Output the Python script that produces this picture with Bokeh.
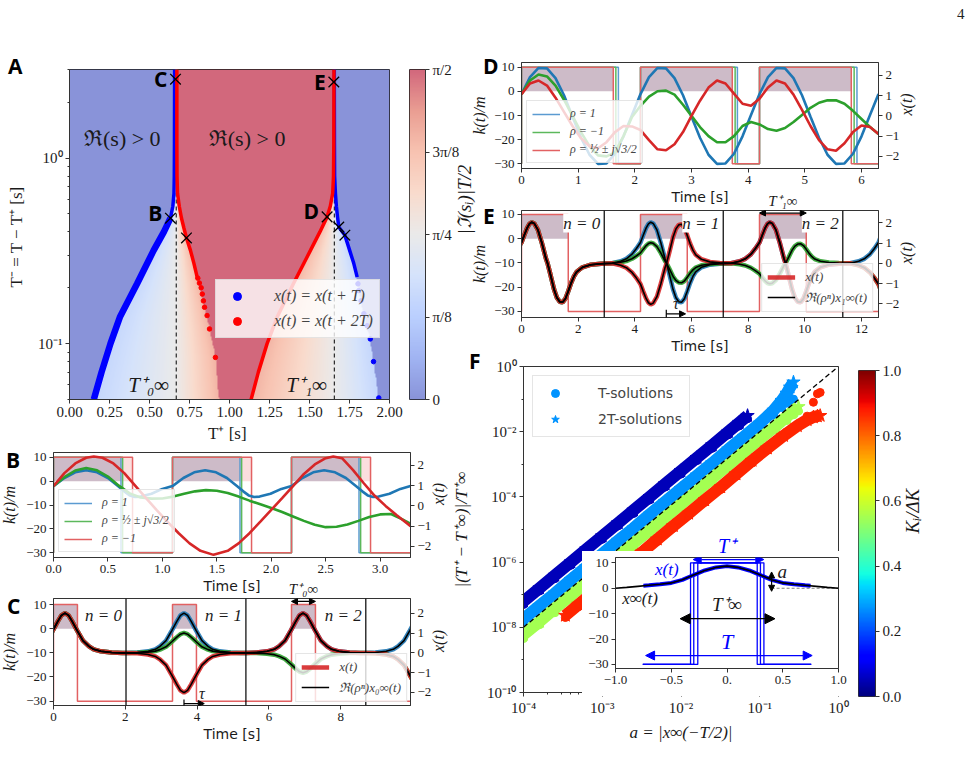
import numpy as np
from bokeh.plotting import figure
from bokeh.models import (Range1d, LinearAxis, FixedTicker, Label, Span, Arrow,
                          NormalHead, TeeHead, Legend, LegendItem, Div,
                          LinearColorMapper)
from bokeh.layouts import column
from bokeh.embed import file_html
from bokeh.resources import INLINE

SERIF = "Liberation Serif"
SANS = "DejaVu Sans"
BOLD = "Open Sans"
MINUS = "\u2212"
INK = "#1a1a1a"

# ============================== DATA ==============================
# ---- Panel A : boundary curves (T+ [s], T- [s]) ----
A_blue_left_y = [0.05, 0.07, 0.1, 0.139, 0.211, 0.318, 0.4, 0.474, 0.55, 0.646, 0.8, 1.2, 3.0]
A_blue_left_x = [0.152, 0.2, 0.256, 0.315, 0.423, 0.526, 0.59, 0.631, 0.646, 0.653, 0.655, 0.656, 0.657]
A_red_left_y = [3.0, 1.2, 0.8, 0.646, 0.55, 0.474, 0.42, 0.371, 0.318, 0.27, 0.228]
A_red_left_x = [0.671, 0.671, 0.672, 0.675, 0.686, 0.700, 0.715, 0.731, 0.756, 0.778, 0.798]
A_red_dots_y = [0.2254, 0.212, 0.2, 0.185, 0.17, 0.157, 0.1417, 0.12, 0.0843]
A_red_dots_x = [0.802, 0.812, 0.823, 0.83, 0.837, 0.844, 0.860, 0.875, 0.912]
A_red_edge_y = [0.05, 0.0843, 0.12, 0.157, 0.228, 0.318, 0.371, 0.474, 0.646, 3.0]
A_red_edge_x = [0.935, 0.912, 0.875, 0.844, 0.798, 0.756, 0.731, 0.700, 0.675, 0.671]
A_red_right_y = [0.05, 0.07, 0.1, 0.139, 0.211, 0.318, 0.4, 0.482, 0.55, 0.646, 0.8, 1.2, 3.0]
A_red_right_x = [1.135, 1.18, 1.235, 1.298, 1.40, 1.506, 1.565, 1.61, 1.63, 1.645, 1.650, 1.652, 1.653]
A_blue_right_y = [3.0, 1.2, 0.8, 0.646, 0.55, 0.482, 0.425, 0.384, 0.32, 0.27, 0.228]
A_blue_right_x = [1.655, 1.656, 1.657, 1.662, 1.668, 1.675, 1.683, 1.721, 1.75, 1.777, 1.798]
A_blue_dots_y = [0.21, 0.193, 0.17, 0.145, 0.125, 0.106, 0.08, 0.051]
A_blue_dots_x = [1.803, 1.808, 1.822, 1.84, 1.86, 1.88, 1.90, 1.933]
A_blue_edge_y = [0.05, 0.106, 0.145, 0.193, 0.228, 0.27, 0.32, 0.384, 0.425, 0.482, 0.646, 3.0]
A_blue_edge_x = [1.935, 1.88, 1.84, 1.808, 1.798, 1.777, 1.75, 1.721, 1.683, 1.675, 1.662, 1.655]
A_Tinf = [0.667, 1.655]
A_Tinf_top = 0.646
A_mark_x = [0.6625, 1.652, 0.631, 0.731, 1.61, 1.683, 1.721]
A_mark_y = [2.66, 2.57, 0.474, 0.371, 0.482, 0.425, 0.384]
A_mark_name = ["C", "E", "B", "", "D", "", ""]
A_xticks = [0.0, 0.25, 0.5, 0.75, 1.0, 1.25, 1.5, 1.75, 2.0]
A_xlabels = ["0.00", "0.25", "0.50", "0.75", "1.00", "1.25", "1.50", "1.75", "2.00"]
A_cb_ticks = [0.0, np.pi / 8, np.pi / 4, 3 * np.pi / 8, np.pi / 2]
A_cb_labels = ["0", "π/8", "π/4", "3π/8", "π/2"]

K_HIGH, K_LOW = 10, -30

# ---- Panel B ----
B_on = [0.0, 1.093, 2.186]
B_off = {"blue": [0.62, 1.713, 2.806], "green": [0.635, 1.728, 2.821], "red": [0.726, 1.819, 2.912]}
B_mauve_end = [0.62, 1.713, 2.806]
B_pink_end = [0.726, 1.819, 2.912]
B_tmax = 3.279
B_t_blue = [0, .1, .2, .3, .4, .5, .6, .65, .7, .75, .8, .9, 1.0,
            1.093, 1.193, 1.293, 1.393, 1.493, 1.593, 1.693, 1.743, 1.793, 1.843, 1.893, 1.993, 2.093,
            2.186, 2.286, 2.386, 2.486, 2.586, 2.686, 2.786, 2.836, 2.886, 2.936, 2.986, 3.086, 3.186, 3.279]
B_x_blue = [0.98, 1.38, 1.66, 1.76, 1.66, 1.38, 0.95, 0.72, 0.52, 0.44, 0.46, 0.60, 0.84,
            0.98, 1.38, 1.66, 1.76, 1.66, 1.38, 0.95, 0.72, 0.52, 0.44, 0.46, 0.60, 0.84,
            0.98, 1.38, 1.66, 1.76, 1.66, 1.38, 0.95, 0.72, 0.52, 0.44, 0.46, 0.60, 0.84, 0.98]
B_t_grid = [0, .1, .2, .3, .4, .5, .6, .7, .8, .9, 1.0, 1.1, 1.2, 1.3, 1.4, 1.5, 1.6, 1.7,
            1.8, 1.9, 2.0, 2.1, 2.2, 2.3, 2.4, 2.5, 2.6, 2.7, 2.8, 2.9, 3.0, 3.1, 3.2, 3.28]
B_x_green = [0.98, 1.42, 1.75, 1.87, 1.76, 1.45, 1.0, 0.62, 0.42, 0.36, 0.37, 0.46, 0.6, 0.72,
             0.78, 0.75, 0.64, 0.46, 0.26, 0.08, -0.1, -0.3, -0.52, -0.74, -0.93, -1.05, -1.03,
             -0.92, -0.74, -0.55, -0.42, -0.4, -0.65, -0.88]
B_t_red = [0, .1, .2, .3, .37, .45, .55, .65, .75, .85, .95, 1.05, 1.15, 1.25, 1.35, 1.47, 1.6,
           1.7, 1.8, 1.9, 2.0, 2.1, 2.2, 2.3, 2.4, 2.5, 2.57, 2.65, 2.75, 2.85, 2.95, 3.05, 3.15, 3.28]
B_x_red = [0.98, 1.62, 2.1, 2.38, 2.44, 2.38, 2.1, 1.62, 1.0, 0.38, -0.22, -0.8, -1.35, -1.85,
           -2.22, -2.42, -2.22, -1.85, -1.35, -0.78, -0.2, 0.38, 0.98, 1.58, 2.05, 2.36, 2.44,
           2.36, 1.78, 1.12, 0.5, 0.0, -0.45, -1.0]
B_xticks = [0.0, 0.5, 1.0, 1.5, 2.0, 2.5, 3.0]

# ---- Panel C ----
C_on = [0.0, 3.315, 6.63]
C_off = [0.667, 3.982, 7.297]
C_tmax = 9.945
C_centers = [0.32, 3.635, 6.95, 10.265]
C_prof_off = [-1.6, -1.3, -1.0, -0.8, -0.67, -0.5, -0.34, -0.2, -0.1, 0.0, 0.1, 0.2, 0.34, 0.5,
              0.67, 0.8, 1.0, 1.3, 1.6]
C_prof_val = [0.0, 0.02, 0.08, 0.18, 0.33, 0.62, 1.13, 1.6, 1.9, 2.02, 1.9, 1.6, 1.13, 0.62,
              0.33, 0.18, 0.08, 0.02, 0.0]
C_vlines = [2.02, 5.36, 8.70]
C_xticks = [0, 2, 4, 6, 8]
C_tau = [3.635, 4.2]

# real part of rho^n for n = 0..3
AMP_ONE = [1, 1, 1, 1]
AMP_SIX = [1, 0.5, -0.5, -1]
AMP_NEG = [1, -1, 1, -1]

# ---- Panel D ----
D_on = [0.0, 2.1, 4.2]
D_off = {"blue": [1.71, 3.81, 5.92], "green": [1.665, 3.77, 5.87], "red": [1.62, 3.72, 5.82]}
D_mauve_end = [1.62, 3.72, 5.82]
D_tmax = 6.3
D_t = [0.0, 0.15, 0.3, 0.45, 0.6, 0.75, 0.9, 1.05, 1.2, 1.35, 1.5, 1.65, 1.8, 1.95, 2.1, 2.25,
       2.4, 2.55, 2.7, 2.85, 3.0, 3.15, 3.3, 3.45, 3.6, 3.75, 3.9, 4.05, 4.2, 4.35, 4.5, 4.65,
       4.8, 4.95, 5.1, 5.25, 5.4, 5.55, 5.7, 5.85, 6.0, 6.15, 6.3]
D_x_blue = [1.08, 1.92, 2.37, 2.35, 1.87, 1.02, -0.04, -1.08, -1.92, -2.37, -2.35, -1.87, -1.01, 0.04,
            1.08, 1.92, 2.37, 2.35, 1.87, 1.02, -0.04, -1.08, -1.92, -2.37, -2.35, -1.87, -1.01, 0.04,
            1.08, 1.92, 2.37, 2.35, 1.87, 1.02, -0.04, -1.08, -1.92, -2.37, -2.35, -1.87, -1.01, 0.04,
            1.08]
D_x_green = [1.07, 1.75, 2.05, 1.95, 1.5, 0.8, 0.0, -0.8, -1.5, -1.95, -2.0, -1.8, -1.0, -0.05,
             0.5, 0.95, 1.22, 1.25, 1.05, 0.55, 0.0, -0.55, -1.0, -1.3, -1.3, -1.0, -0.5, -0.3,
             -0.42, -0.65, -0.73, -0.6, -0.3, 0.05, 0.4, 0.65, 0.77, 0.77, 0.6, 0.25, -0.15,
             -0.55, -0.9]
D_x_red = [1.07, 1.6, 1.75, 1.5, 0.9, 0.2, -0.5, -1.1, -1.5, -1.6, -1.3, -0.8, -0.5, -0.52, -0.7,
           -1.2, -1.65, -1.7, -1.4, -0.8, 0.0, 0.75, 1.4, 1.75, 1.6, 1.1, 0.6, 0.5, 0.85, 1.4,
           1.75, 1.6, 1.05, 0.3, -0.5, -1.2, -1.65, -1.72, -1.35, -0.8, -0.47, -0.55, -0.9]
D_xticks = [0, 1, 2, 3, 4, 5, 6]

# ---- Panel E ----
E_on = [0.0, 4.2, 8.4]
E_off = [1.65, 5.85, 10.05]
E_tmax = 12.6
E_starts = [0.0, 4.2, 8.4, 12.6]
E_prof_off = [-1.0, -0.7, -0.5, -0.3, -0.15, 0.0, 0.1, 0.2, 0.28, 0.36, 0.45, 0.58, 0.72, 0.86,
              0.92, 1.02, 1.15, 1.25, 1.35, 1.45, 1.55, 1.65, 1.75, 1.85, 1.95, 2.15, 2.45, 2.8, 3.2]
E_prof_val = [0.0, 0.1, 0.22, 0.45, 0.72, 1.03, 1.4, 1.75, 1.95, 2.03, 1.97, 1.65, 1.0, 0.25,
              0.0, -0.55, -1.3, -1.7, -1.9, -1.93, -1.75, -1.38, -0.98, -0.65, -0.42, -0.2,
              -0.07, -0.02, 0.0]
E_vlines = [2.92, 7.12, 11.34]
E_xticks = [0, 2, 4, 6, 8, 10, 12]
E_tau = [5.11, 5.79]

# ---- Panel F ----
F_K = [0.05, 0.27, 0.55, 0.87]
F_db_a = [1.0e-4, 1.6e-4, 2.5e-4, 4.0e-4, 6.3e-4, 1.0e-3, 1.6e-3, 2.5e-3, 4.0e-3, 6.3e-3, 1.0e-2,
          1.6e-2, 2.5e-2, 4.0e-2, 5.5e-2, 7.0e-2]
F_db_star = [6.3e-8, 1.6e-7, 3.9e-7, 1.0e-6, 2.5e-6, 6.3e-6, 1.6e-5, 3.9e-5, 1.0e-4, 2.5e-4,
             6.3e-4, 1.6e-3, 3.9e-3, 1.0e-2, 1.9e-2, 3.1e-2]
F_db_dot = [5.0e-8, 1.3e-7, 3.1e-7, 8.0e-7, 2.0e-6, 5.0e-6, 1.3e-5, 3.1e-5, 8.0e-5, 2.0e-4,
            5.0e-4, 1.3e-3, 3.1e-3, 8.0e-3, 1.5e-2, 2.5e-2]
F_lb_a = [1.0e-4, 1.6e-4, 2.5e-4, 4.0e-4, 6.3e-4, 1.0e-3, 1.6e-3, 2.5e-3, 4.0e-3, 6.3e-3, 1.0e-2,
          1.6e-2, 2.5e-2, 4.0e-2, 6.3e-2, 0.1, 0.15, 0.19, 0.22, 0.243, 0.268]
F_lb_star = [1.8e-8, 4.6e-8, 1.1e-7, 2.9e-7, 7.1e-7, 1.8e-6, 4.6e-6, 1.1e-5, 2.9e-5, 7.1e-5,
             1.8e-4, 4.6e-4, 1.1e-3, 2.9e-3, 7.1e-3, 1.8e-2, 4.5e-2, 9.0e-2, 0.15, 0.23, 0.33]
F_lb_dot = [1.4e-8, 3.6e-8, 8.8e-8, 2.2e-7, 5.6e-7, 1.4e-6, 3.6e-6, 8.8e-6, 2.2e-5, 5.6e-5,
            1.4e-4, 3.6e-4, 8.8e-4, 2.2e-3, 5.6e-3, 1.4e-2, 3.2e-2, 5.5e-2, 7.5e-2, 9.0e-2, 0.1]
F_gr_a = [1.0e-4, 1.6e-4, 2.5e-4, 4.0e-4, 6.3e-4, 1.0e-3, 1.6e-3, 2.5e-3, 4.0e-3, 6.3e-3, 1.0e-2,
          1.6e-2, 2.5e-2, 4.0e-2, 6.3e-2, 0.1, 0.16, 0.22, 0.27, 0.31]
F_gr_star = [6.0e-9, 1.5e-8, 3.8e-8, 9.6e-8, 2.4e-7, 6.0e-7, 1.5e-6, 3.8e-6, 9.6e-6, 2.4e-5,
             6.0e-5, 1.5e-4, 3.8e-4, 9.6e-4, 2.4e-3, 6.0e-3, 1.5e-2, 2.9e-2, 4.4e-2, 5.8e-2]
F_gr_dot = [4.5e-9, 1.2e-8, 2.8e-8, 7.2e-8, 1.8e-7, 4.5e-7, 1.2e-6, 2.8e-6, 7.2e-6, 1.8e-5,
            4.5e-5, 1.2e-4, 2.8e-4, 7.2e-4, 1.8e-3, 4.5e-3, 1.15e-2, 2.2e-2, 3.3e-2, 4.3e-2]
F_rd_a = [3.4e-4, 5.0e-4, 8.0e-4, 1.25e-3, 2.0e-3, 3.2e-3, 5.0e-3, 8.0e-3, 1.25e-2, 2.0e-2,
          3.2e-2, 5.0e-2, 8.0e-2, 0.125, 0.2, 0.3, 0.4, 0.48, 0.54, 0.585]
F_rd_star = [2.3e-8, 5.0e-8, 1.3e-7, 3.1e-7, 8.0e-7, 2.0e-6, 5.0e-6, 1.3e-5, 3.1e-5, 8.0e-5,
             2.0e-4, 5.0e-4, 1.3e-3, 3.1e-3, 7.5e-3, 1.5e-2, 2.3e-2, 2.8e-2, 3.0e-2, 3.1e-2]
F_rd_dot = [2.0e-8, 4.3e-8, 1.1e-7, 2.7e-7, 6.8e-7, 1.7e-6, 4.3e-6, 1.1e-5, 2.7e-5, 6.8e-5,
            1.7e-4, 4.3e-4, 1.1e-3, 2.7e-3, 6.8e-3, 1.6e-2, 3.0e-2, 8.0e-2, 0.145, 0.16]
F_ref_a = [1e-4, 1.0]
F_ref_y = [1e-8, 1.0]
F_xticks = [1e-4, 1e-3, 1e-2, 1e-1, 1.0]
F_xlabels = ["10⁻⁴", "10⁻³", "10⁻²", "10⁻¹", "10⁰"]
F_yticks = [1e-10, 1e-8, 1e-6, 1e-4, 1e-2, 1.0]
F_ylabels = ["10⁻¹⁰", "10⁻⁸", "10⁻⁶", "10⁻⁴", "10⁻²", "10⁰"]
F_cb_ticks = [0.0, 0.2, 0.4, 0.6, 0.8, 1.0]

# ---- Inset ----
I_x = [-1.0, -0.9, -0.8, -0.7, -0.6, -0.5, -0.4, -0.3, -0.2, -0.1, 0.0, 0.1, 0.2, 0.3, 0.4, 0.5,
       0.6, 0.7, 0.8, 0.9, 1.0]
I_y = [0.0, 0.35, 0.75, 1.15, 1.55, 2.1, 3.3, 5.2, 7.0, 8.2, 8.7, 8.2, 7.0, 5.2, 3.3, 2.1, 1.55,
       1.15, 0.75, 0.35, 0.0]
I_xt_x = [-0.75, -0.7, -0.6, -0.5, -0.4, -0.3, -0.2, -0.1, 0.0, 0.1, 0.2, 0.3, 0.4, 0.5, 0.6, 0.7, 0.75]
I_xt_y = [1.0, 1.15, 1.55, 2.1, 3.3, 5.2, 7.0, 8.2, 8.7, 8.2, 7.0, 5.2, 3.3, 2.1, 1.55, 1.15, 1.0]
I_half_T = 0.755
I_on_left = [-0.327, -0.298, -0.262]
I_on_right = [0.331, 0.300, 0.271]
I_a_x, I_a_lo, I_a_hi = 0.4, -1.2, 6.4
I_Tinf = [-0.42, 0.43]
I_Tplus = [-0.303, 0.33]
I_T = [-0.73, 0.764]

# ============================== STYLE HELPERS ==============================
L_ALL, R_ALL = 90, 80      # shared left / right borders (frames in a column are aligned)


def build_palette(anchors, n=256):
    pos = np.array([a[0] for a in anchors])
    cols = np.array([[int(a[1][i:i + 2], 16) for i in (1, 3, 5)] for a in anchors], float)
    t = np.linspace(0, 1, n)
    rgb = np.stack([np.interp(t, pos, cols[:, k]) for k in range(3)], 1)
    return ["#%02x%02x%02x" % tuple(int(round(v)) for v in c) for c in rgb]


COOLWARM = build_palette([(0.0, "#3b4cc0"), (0.125, "#6282ea"), (0.25, "#8db0fe"),
                          (0.375, "#b9d0f9"), (0.5, "#dddcdc"), (0.625, "#f5c4ac"),
                          (0.75, "#f39b7e"), (0.875, "#dc5e4b"), (1.0, "#b40426")])
JET_R = ([0, 0.35, 0.66, 0.89, 1], [0, 0, 1, 1, 0.5])
JET_G = ([0, 0.125, 0.375, 0.64, 0.91, 1], [0, 0, 1, 1, 0, 0])
JET_B = ([0, 0.11, 0.34, 0.65, 1], [0.5, 1, 1, 0, 0])


def jet(v):
    r = np.interp(v, *JET_R); g = np.interp(v, *JET_G); b = np.interp(v, *JET_B)
    return "#%02x%02x%02x" % (int(r * 255), int(g * 255), int(b * 255))


JET256 = [jet(v) for v in np.linspace(0, 1, 256)]
TB, TG, TR = "#1f77b4", "#2ca02c", "#d62728"
SB, SG, SR = "#5b9bd1", "#5cb85c", "#e26162"      # lighter tints used for the k(t) steps
MAUVE, PINK = "#cdbbc8", "#fbdede"


def fmt(v, nd=0):
    s = f"{abs(v):.{nd}f}"
    return (MINUS + s) if v < 0 else s


def mkfig(fw, fh, T, B, **kw):
    p = figure(frame_width=fw, frame_height=fh, min_border_left=L_ALL, min_border_right=R_ALL,
               min_border_top=T, min_border_bottom=B, toolbar_location=None,
               output_backend="svg", title=None, **kw)
    p.border_fill_alpha = 0.0
    p.background_fill_color = "white"
    p.outline_line_color = "#333333"
    p.outline_line_width = 1.0
    p.grid.visible = False
    return p


def style_axis(ax, size=13, font=SERIF, lsize=16, lfont=SERIF, lstyle="italic", standoff=6):
    ax.major_label_text_font = font
    ax.major_label_text_font_size = f"{size}px"
    ax.major_label_text_color = INK
    ax.axis_line_color = "#333333"
    ax.major_tick_line_color = "#333333"
    ax.minor_tick_line_color = "#333333"
    ax.major_tick_in = 0
    ax.major_tick_out = 4
    ax.minor_tick_in = 0
    ax.minor_tick_out = 2
    ax.major_label_standoff = 3
    ax.axis_label_text_font = lfont
    ax.axis_label_text_font_size = f"{lsize}px"
    ax.axis_label_text_font_style = lstyle
    ax.axis_label_text_color = INK
    ax.axis_label_standoff = standoff


def upward_label(ax):
    try:
        ax.axis_label_orientation = np.pi / 2
    except Exception:
        pass


def set_ticks(ax, vals, labels, minor=()):
    ax.ticker = FixedTicker(ticks=list(vals), minor_ticks=list(minor))
    ax.major_label_overrides = {v: l for v, l in zip(vals, labels)}


def top_text(p, xval, text, size=15, color=INK, standoff=2):
    ax = LinearAxis()
    ax.ticker = FixedTicker(ticks=[xval])
    ax.major_label_overrides = {xval: text}
    ax.axis_line_color = None
    ax.major_tick_line_color = None
    ax.minor_tick_line_color = None
    ax.major_tick_out = 0
    ax.minor_tick_out = 0
    ax.major_label_text_font = SERIF
    ax.major_label_text_font_size = f"{size}px"
    ax.major_label_text_font_style = "italic"
    ax.major_label_text_color = color
    ax.major_label_standoff = standoff
    p.add_layout(ax, "above")


def add_label(p, x, y, text, size=14, font=SERIF, style="normal", color=INK, align="left",
              baseline="bottom", xo=0, yo=0, angle=0.0, bg=None, yr="default", xr="default"):
    lab = Label(x=x, y=y, text=text, text_font=font, text_font_size=f"{size}px",
                text_font_style=style, text_color=color, text_align=align,
                text_baseline=baseline, x_offset=xo, y_offset=yo, angle=angle,
                x_range_name=xr, y_range_name=yr)
    if bg is not None:
        lab.background_fill_color = bg
    p.add_layout(lab)
    return lab


def add_arrow(p, x0, y0, x1, y1, color="black", size=7, lw=1.2, start="normal"):
    end = NormalHead(size=size, fill_color=color, line_color=color)
    if start == "tee":
        st = TeeHead(size=size + 2, line_color=color, line_width=lw)
    else:
        st = NormalHead(size=size, fill_color=color, line_color=color)
    p.add_layout(Arrow(x_start=x0, y_start=y0, x_end=x1, y_end=y1, start=st, end=end,
                       line_color=color, line_width=lw))


def step_path(on, off, tmax):
    xs, ys = [], []
    for s, e in zip(on, off):
        xs += [s, s, e, e]
        ys += [K_LOW, K_HIGH, K_HIGH, K_LOW]
    xs.append(tmax); ys.append(K_LOW)
    return xs, ys


def pulse_train(anchors, offs, vals, amps):
    t, x = [], []
    for c, a in zip(anchors, amps):
        t += [c + o for o in offs]
        x += [a * v for v in vals]
    return t, x


def time_panel(fw, fh, T, B, xmax, yl, xr, xticks, xlabels, lstand=5):
    p = mkfig(fw, fh, T, B, x_range=Range1d(0, xmax), y_range=Range1d(*yl))
    p.extra_y_ranges = {"x": Range1d(*xr)}
    rax = LinearAxis(y_range_name="x")
    p.add_layout(rax, "right")
    style_axis(p.xaxis[0], lsize=14, lfont=SANS, lstyle="normal", standoff=2)
    p.xaxis[0].axis_label = "Time [s]"
    set_ticks(p.xaxis[0], xticks, xlabels)
    style_axis(p.yaxis[0], standoff=lstand)
    p.yaxis[0].axis_label = "k(t)/m"
    set_ticks(p.yaxis[0], [-30, -20, -10, 0, 10], [fmt(v) for v in [-30, -20, -10, 0, 10]])
    style_axis(rax, standoff=4)
    rax.axis_label = "x(t)"
    upward_label(rax)
    set_ticks(rax, [-2, -1, 0, 1, 2], [fmt(v) for v in [-2, -1, 0, 1, 2]])
    return p


def small_legend(p, items, location, size=12, margin=5):
    leg = Legend(items=[LegendItem(label=l, renderers=[r]) for l, r in items], location=location)
    leg.label_text_font = SERIF
    leg.label_text_font_size = f"{size}px"
    leg.label_text_font_style = "italic"
    leg.border_line_color = "#cccccc"
    leg.background_fill_alpha = 0.8
    leg.padding = 5
    leg.spacing = 3
    leg.margin = margin
    leg.glyph_width = 28
    leg.glyph_height = 14
    leg.label_height = 14
    leg.label_standoff = 10
    p.add_layout(leg)
    return leg


def letter(text):
    return Div(text=text, width=22, height=24,
               styles={"font-family": "Open Sans", "font-weight": "bold", "font-size": "21px",
                       "line-height": "1", "color": "black"})


# ============================== PANEL A ==============================
pA = mkfig(320, 330, 29, 53, x_range=Range1d(0, 2), y_range=Range1d(0.05, 3.0), y_axis_type="log")
gx = np.linspace(0, 2, 500)
gly = np.linspace(np.log10(0.05), np.log10(3.0), 300)


def boundary(ys, xs):
    ly = np.log10(np.asarray(ys, float)); xv = np.asarray(xs, float)
    o = np.argsort(ly)
    return np.interp(gly, ly[o], xv[o])[:, None]


def ramp(x, a, b, v0, v1):
    t = np.clip((x - a) / np.maximum(b - a, 1e-6), 0, 1)
    return v0 + (v1 - v0) * t


X = gx[None, :]
bl = boundary(A_blue_left_y, A_blue_left_x)
rl = boundary(A_red_edge_y, A_red_edge_x)
rr = boundary(A_red_right_y, A_red_right_x)
br = boundary(A_blue_edge_y, A_blue_edge_x)
d0, d1 = A_Tinf
field = np.zeros((len(gly), len(gx)))
field = np.where((X >= bl) & (X < d0), ramp(X, bl, d0, 0.3, 0.5), field)
field = np.where((X >= d0) & (X < rl), ramp(X, d0, rl, 0.5, 0.8), field)
field = np.where((X >= rl) & (X < rr), 1.0, field)
field = np.where((X >= rr) & (X < d1), ramp(X, rr, d1, 0.8, 0.5), field)
field = np.where((X >= d1) & (X < br), ramp(X, d1, br, 0.5, 0.3), field)
mapA = LinearColorMapper(palette=COOLWARM, low=0, high=1)
pA.image(image=[field.astype(np.float32)], x=0, y=0.05, dw=2, dh=2.95, color_mapper=mapA,
         global_alpha=0.6)

for xv in A_Tinf:
    pA.line([xv, xv], [0.05, A_Tinf_top], line_color="black", line_dash="4 3", line_width=1)

pA.line(A_blue_left_x, A_blue_left_y, line_color="blue", line_width=3.5)
pA.line(A_blue_left_x[:8], A_blue_left_y[:8], line_color="blue", line_width=6.5)
pA.line(A_red_left_x, A_red_left_y, line_color="red", line_width=3.5)
rA_red = pA.scatter(A_red_dots_x, A_red_dots_y, size=4.5, color="red")
pA.line(A_blue_right_x, A_blue_right_y, line_color="blue", line_width=3.5)
rA_blue = pA.scatter(A_blue_dots_x, A_blue_dots_y, size=4.5, color="blue")
pA.line(A_red_right_x, A_red_right_y, line_color="red", line_width=3.5)
pA.scatter(A_mark_x, A_mark_y, marker="x", size=15, line_color="black", line_width=1.3)
for mx, my, nm, yo in zip(A_mark_x, A_mark_y, A_mark_name, [0, 0, 5, 0, 6, 0, 0]):
    if nm:
        add_label(pA, mx, my, nm, size=21, font=BOLD, style="bold", color="black",
                  align="right", baseline="middle", xo=-8, yo=yo)
add_label(pA, 0.33, 1.28, "ℜ(s) > 0", size=22, align="center", baseline="middle")
add_label(pA, 1.11, 1.28, "ℜ(s) > 0", size=22, align="center", baseline="middle")
add_label(pA, A_Tinf[0], 0.05, "T⁺₀∞", size=21, style="italic", align="right", xo=-7, yo=3)
add_label(pA, A_Tinf[1], 0.05, "T⁺₁∞", size=21, style="italic", align="right", xo=-7, yo=3)
style_axis(pA.xaxis[0], size=15, lsize=17, lstyle="normal", standoff=4)
style_axis(pA.yaxis[0], size=15, lsize=17, lstyle="normal", standoff=9)
pA.xaxis[0].axis_label = "T⁺  [s]"
pA.yaxis[0].axis_label = "T⁻ = T − T⁺  [s]"
set_ticks(pA.xaxis[0], A_xticks, A_xlabels)
set_ticks(pA.yaxis[0], [0.1, 1.0], ["10⁻¹", "10⁰"],
          [0.05, 0.06, 0.07, 0.08, 0.09, 0.2, 0.3, 0.4, 0.5, 0.6, 0.7, 0.8, 0.9, 2.0, 3.0])
legA = Legend(items=[LegendItem(label="x(t) = x(t + T)", renderers=[rA_blue]),
                     LegendItem(label="x(t) = x(t + 2T)", renderers=[rA_red])],
              location=(146, 61))
legA.label_text_font = SERIF
legA.label_text_font_size = "16px"
legA.label_text_font_style = "italic"
legA.border_line_color = "#cccccc"
legA.background_fill_alpha = 0.8
legA.margin = 4
legA.padding = 6
legA.spacing = 5
legA.glyph_width = 30
legA.label_height = 18
legA.label_standoff = 22
pA.add_layout(legA)

# colour bar of A
pAc = mkfig(16, 330, 29, 53, x_range=Range1d(0, 1), y_range=Range1d(0, np.pi / 2),
            x_axis_location=None, y_axis_location="right")
grad = np.linspace(0, 1, 256).reshape(256, 1).astype(np.float32)
pAc.image(image=[grad], x=0, y=0, dw=1, dh=np.pi / 2, color_mapper=mapA, global_alpha=0.6)
style_axis(pAc.yaxis[0], size=15, lsize=19, standoff=2)
set_ticks(pAc.yaxis[0], A_cb_ticks, A_cb_labels)
pAc.yaxis[0].axis_label = "|ℑ(sᵢ)|T/2"
upward_label(pAc.yaxis[0])

# ============================== PANEL B ==============================
pB = time_panel(357, 105, 8, 43, B_tmax, (-32, 12), (-2.55, 2.64), B_xticks,
                [f"{v:.1f}" for v in B_xticks])
pB.quad(left=B_on, right=B_mauve_end, bottom=0, top=K_HIGH, fill_color=MAUVE, line_color=None)
pB.quad(left=B_mauve_end, right=B_pink_end, bottom=0, top=K_HIGH, fill_color=PINK, line_color=None)
rB = {}
for name, col in [("blue", SB), ("green", SG), ("red", SR)]:
    sx, sy = step_path(B_on, B_off[name], B_tmax)
    rB[name] = pB.line(sx, sy, line_color=col, line_width=1.5)
pB.line(B_t_blue, B_x_blue, y_range_name="x", line_color=TB, line_width=2.6)
pB.line(B_t_grid, B_x_green, y_range_name="x", line_color=TG, line_width=2.6)
pB.line(B_t_red, B_x_red, y_range_name="x", line_color=TR, line_width=2.6)
small_legend(pB, [("ρ = 1", rB["blue"]), ("ρ = ½ ± j√3/2", rB["green"]),
                  ("ρ = −1", rB["red"])], "bottom_left")

# ============================== PANEL C ==============================
pC = time_panel(357, 107, 23, 44, C_tmax, (-31.8, 12.5), (-2.67, 2.76), C_xticks,
                [str(v) for v in C_xticks])
pC.quad(left=C_on, right=C_off, bottom=0, top=K_HIGH, fill_color=MAUVE, line_color=None)
for xv in C_vlines:
    pC.add_layout(Span(location=xv, dimension="height", line_color="black", line_width=1.2))
sx, sy = step_path(C_on, C_off, C_tmax)
pC.line(sx, sy, line_color=SR, line_width=1.5)
rC = {}
for name, col, amps in [("blue", TB, AMP_ONE), ("green", TG, AMP_SIX), ("red", TR, AMP_NEG)]:
    t, x = pulse_train(C_centers, C_prof_off, C_prof_val, amps)
    rC[name] = pC.line(t, x, y_range_name="x", line_color=col, line_width=4.5, line_alpha=0.9)
for amps in (AMP_ONE, AMP_SIX, AMP_NEG):
    t, x = pulse_train(C_centers, C_prof_off, C_prof_val, amps)
    rC_black = pC.line(t, x, y_range_name="x", line_color="black", line_width=1.6)
small_legend(pC, [("x(t)", rC["red"]), ("ℜ(ρⁿ)x₀∞(t)", rC_black)], "bottom_right", size=13,
             margin=3)
for xv, nlab in zip(C_vlines, ["n = 0", "n = 1", "n = 2"]):
    add_label(pC, xv, 12.5, nlab, size=17, style="italic", align="right", baseline="top",
              xo=-4, yo=-7, bg="white")
add_arrow(pC, C_on[2], 11.3, C_off[2], 11.3, size=6)
top_text(pC, (C_on[2] + C_off[2]) / 2, "T⁺₀∞", size=15)
add_arrow(pC, C_tau[0], -31.0, C_tau[1], -31.0, size=6, start="tee")
add_label(pC, C_tau[1] - 0.15, -31.0, "τ", size=16, style="italic", yo=2)

# ============================== PANEL D ==============================
pD = time_panel(357, 106, 22, 44, D_tmax, (-31.95, 11.95), (-2.6, 2.64), D_xticks,
                [str(v) for v in D_xticks], lstand=3)
pD.quad(left=D_on, right=D_mauve_end, bottom=0, top=K_HIGH, fill_color=MAUVE, line_color=None)
rD = {}
for name, col in [("blue", SB), ("green", SG), ("red", SR)]:
    sx, sy = step_path(D_on, D_off[name], D_tmax)
    rD[name] = pD.line(sx, sy, line_color=col, line_width=1.5)
pD.line(D_t, D_x_blue, y_range_name="x", line_color=TB, line_width=2.6)
pD.line(D_t, D_x_green, y_range_name="x", line_color=TG, line_width=2.6)
pD.line(D_t, D_x_red, y_range_name="x", line_color=TR, line_width=2.6)
small_legend(pD, [("ρ = 1", rD["blue"]), ("ρ = −1", rD["green"]),
                  ("ρ = ½ ± j√3/2", rD["red"])], "bottom_left")

# ============================== PANEL E ==============================
pE = time_panel(357, 107, 30, 41, E_tmax, (-32.5, 11.65), (-2.68, 2.61), E_xticks,
                [str(v) for v in E_xticks], lstand=3)
pE.quad(left=E_on, right=E_off, bottom=0, top=K_HIGH, fill_color=MAUVE, line_color=None)
for xv in E_vlines:
    pE.add_layout(Span(location=xv, dimension="height", line_color="black", line_width=1.2))
sx, sy = step_path(E_on, E_off, E_tmax)
pE.line(sx, sy, line_color=SR, line_width=1.5)
rE = {}
for name, col, amps in [("blue", TB, AMP_ONE), ("green", TG, AMP_SIX), ("red", TR, AMP_NEG)]:
    t, x = pulse_train(E_starts, E_prof_off, E_prof_val, amps)
    rE[name] = pE.line(t, x, y_range_name="x", line_color=col, line_width=4.5, line_alpha=0.9)
for amps in (AMP_ONE, AMP_SIX, AMP_NEG):
    t, x = pulse_train(E_starts, E_prof_off, E_prof_val, amps)
    rE_black = pE.line(t, x, y_range_name="x", line_color="black", line_width=1.6)
small_legend(pE, [("x(t)", rE["red"]), ("ℜ(ρⁿ)x₁∞(t)", rE_black)], "bottom_right", size=13,
             margin=5)
for xv, nlab in zip(E_vlines, ["n = 0", "n = 1", "n = 2"]):
    add_label(pE, xv, 11.65, nlab, size=17, style="italic", align="right", baseline="top",
              xo=-4, yo=-3, bg="white")
add_arrow(pE, E_on[2], 10.6, E_off[2], 10.6, size=6)
top_text(pE, (E_on[2] + E_off[2]) / 2, "T⁺₁∞", size=15)
add_arrow(pE, E_tau[0], -31.0, E_tau[1], -31.0, size=6, start="tee")
add_label(pE, (E_tau[0] + E_tau[1]) / 2, -31.0, "τ", size=16, style="italic", align="center", yo=2)

# ============================== PANEL F ==============================
pF = mkfig(315, 326, 21, 48, x_axis_type="log", y_axis_type="log",
           x_range=Range1d(1e-4, 1.0), y_range=Range1d(1e-10, 1.0))
style_axis(pF.xaxis[0], size=15, lsize=17, standoff=4)
style_axis(pF.yaxis[0], size=15, lsize=17, standoff=13)
pF.xaxis[0].axis_label = "a = |x∞(−T/2)|"
pF.yaxis[0].axis_label = "|(T⁺ − T⁺∞)|/T⁺∞"
set_ticks(pF.xaxis[0], F_xticks, F_xlabels,
          [m * 10.0 ** e for e in range(-4, 0) for m in range(2, 10)])
set_ticks(pF.yaxis[0], F_yticks, F_ylabels, [10.0 ** e for e in (-9, -7, -5, -3, -1)])
bands = [(F_db_a, F_db_star, F_db_dot), (F_lb_a, F_lb_star, F_lb_dot),
         (F_gr_a, F_gr_star, F_gr_dot), (F_rd_a, F_rd_star, F_rd_dot)]
rF = []
for (a, ys, yd), kv in zip(bands, F_K):
    col = jet(kv)
    pF.line(a, ys, line_color=col, line_width=12, line_join="round")
    r_dot = pF.scatter(a, yd, marker="circle", size=8, color=col)
    r_star = pF.scatter(a, ys, marker="star", size=14, color=col)
    rF.append((r_dot, r_star))
pF.line(F_ref_a, F_ref_y, line_color="black", line_dash="5 3", line_width=1.3)
legF = Legend(items=[LegendItem(label="T-solutions", renderers=[rF[1][0]]),
                     LegendItem(label="2T-solutions", renderers=[rF[1][1]])],
              location="top_left")
legF.label_text_font = SANS
legF.label_text_font_size = "14px"
legF.border_line_color = "#cccccc"
legF.background_fill_alpha = 0.8
legF.margin = 9
legF.padding = 7
legF.spacing = 6
legF.glyph_width = 30
legF.label_height = 18
legF.label_standoff = 28
pF.add_layout(legF)

pFc = mkfig(17, 326, 21, 48, x_range=Range1d(0, 1), y_range=Range1d(0, 1),
            x_axis_location=None, y_axis_location="right")
mapF = LinearColorMapper(palette=JET256, low=0, high=1)
pFc.image(image=[grad], x=0, y=0, dw=1, dh=1, color_mapper=mapF)
style_axis(pFc.yaxis[0], size=15, lsize=19, standoff=8)
set_ticks(pFc.yaxis[0], F_cb_ticks, [f"{v:.1f}" for v in F_cb_ticks])
pFc.yaxis[0].axis_label = "Kᵢ/ΔK"
upward_label(pFc.yaxis[0])

# ============================== INSET ==============================
white = Div(text="", width=258, height=145, styles={"background-color": "white"})
pI = mkfig(223, 111, 30, 28, x_range=Range1d(-1, 1), y_range=Range1d(-31.6, 12.1))
style_axis(pI.xaxis[0], size=13)
style_axis(pI.yaxis[0], size=13)
set_ticks(pI.xaxis[0], [-1.0, -0.5, 0.0, 0.5, 1.0], [MINUS + "1.0", MINUS + "0.5", "0.", "0.5", "1.0"])
set_ticks(pI.yaxis[0], [-30, -20, -10, 0, 10], [fmt(v) for v in [-30, -20, -10, 0, 10]])
for lft, rgt in zip(I_on_left, I_on_right):
    pI.line([-I_half_T, lft, lft, rgt, rgt, I_half_T], [K_LOW, K_LOW, K_HIGH, K_HIGH, K_LOW, K_LOW],
            line_color="blue", line_width=1.3)
pI.line([I_a_x, 1.0], [0, 0], line_color="gray", line_dash="3 2", line_width=1.2)
pI.line(I_xt_x, I_xt_y, line_color="blue", line_width=4)
pI.line(I_x, I_y, line_color="black", line_width=1.6)
add_arrow(pI, I_a_x, I_a_lo, I_a_x, I_a_hi, size=6, lw=1.2)
add_label(pI, I_a_x, 6.4, "a", size=19, style="italic", xo=6, baseline="middle")
add_arrow(pI, I_Tinf[0], -12, I_Tinf[1], -12, size=10, lw=1.3)
add_label(pI, 0.0, -12, "T⁺∞", size=19, style="italic", align="center", yo=4)
add_arrow(pI, I_T[0], -26.5, I_T[1], -26.5, color="blue", size=9, lw=1.3)
add_label(pI, 0.0, -26.5, "T", size=22, style="italic", color="blue", align="center", yo=2)
add_arrow(pI, I_Tplus[0], 11.3, I_Tplus[1], 11.3, color="blue", size=8, lw=1.3)
top_text(pI, 0.0, "T⁺", size=20, color="blue", standoff=1)
add_label(pI, -0.54, 7.3, "x(t)", size=17, style="italic", color="blue", align="center",
          baseline="middle")
add_label(pI, -0.78, -4.0, "x∞(t)", size=17, style="italic", align="center", baseline="middle")

page = Div(text="4", width=18, height=22,
           styles={"font-family": "Liberation Serif", "font-size": "15px", "color": "#222",
                   "line-height": "1"})

# ============================== PAGE ASSEMBLY ==============================
# (figure, frame left, frame top, top border, frame height, bottom border)
figs = [(pA, 69, 69, 29, 330, 53), (pAc, 409, 69, 29, 330, 53), (pB, 53, 452, 8, 105, 43),
        (pC, 53, 598, 23, 107, 44), (pD, 521, 62, 22, 106, 44), (pE, 521, 210, 30, 107, 41),
        (pF, 523, 366, 21, 326, 48), (pFc, 858, 366, 21, 326, 48)]
placements = [(f, fl - L_ALL, ft - t, t + fh + b) for f, fl, ft, t, fh, b in figs]
placements += [(white, 582, 547, 145), (pI, 615 - L_ALL, 553 - 30, 30 + 111 + 28),
               (page, 957, 3, 22),
               (letter("A"), 8, 52, 24), (letter("B"), 6, 446, 24), (letter("C"), 7, 592, 24),
               (letter("D"), 483, 52, 24), (letter("E"), 483, 202, 24), (letter("F"), 469, 347, 24)]
cursor = 0
for obj, x0, y0, h in placements:
    obj.margin = (y0 - cursor, 0, 0, x0)
    cursor = y0 + h
root = column(*[o for o, *_ in placements])
open("out.html", "w").write(file_html(root, INLINE))
